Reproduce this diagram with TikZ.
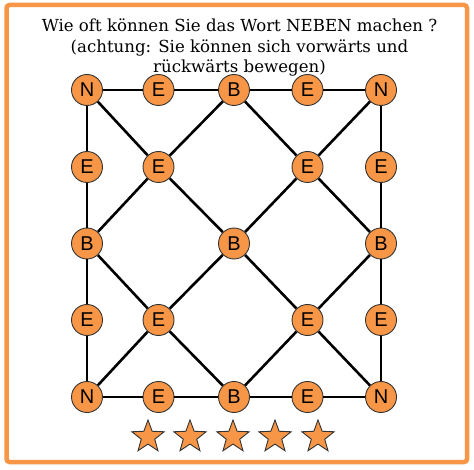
\documentclass[tikz,border=0pt]{standalone}
\usepackage{fontspec}
\setmainfont{DejaVu Serif}
\newfontfamily\letterfont{Liberation Sans}
\usepackage{tikz}
\usetikzlibrary{shapes.geometric}
\definecolor{nebenorange}{HTML}{F79646}
\tikzstyle{letter} = [
    circle,
    draw = black!80,
    line width = 0.9pt,
    fill = nebenorange,
    minimum size = 31pt,
    inner sep = 0pt,
    font = \letterfont\fontsize{20}{20}\selectfont
]
\tikzstyle{link} = [
    draw,
    line width = 2.6pt
]
\tikzstyle{prize} = [
    star,
    star points = 5,
    star point ratio = 2.4,
    draw = black!80,
    fill = nebenorange,
    line width = 0.9pt,
    minimum size = 34pt,
    inner sep = 0pt
]
\tikzstyle{title} = [
    anchor = base,
    inner sep = 0pt,
    font = \fontsize{16.6}{20}\selectfont
]
\begin{document}
\begin{tikzpicture}[x=1pt, y=-1pt]

                \useasboundingbox (0,0) rectangle (474,470);

                % frame
                \draw [nebenorange, line width = 4.5pt, rounded corners = 3pt] (6.5,5) rectangle (467,462);

                % question
                \node [title] (title1) at (239.5,32) {Wie oft können Sie das Wort NEBEN machen ?};
                \node [title] (title2) at (239.5,53) {(achtung: Sie können sich vorwärts und};
                \node [title] (title3) at (239.5,72.5) {rückwärts bewegen)};

                % top row
                \node [letter] (nTL) at (87,90) {N};
                \node [letter] (eT1) at (158.5,90) {E};
                \node [letter] (bT) at (234,90) {B};
                \node [letter] (eT2) at (307.5,90) {E};
                \node [letter] (nTR) at (381,90) {N};

                % left and right column
                \node [letter] (eL1) at (87,167) {E};
                \node [letter] (bL) at (87,243.5) {B};
                \node [letter] (eL2) at (87,320) {E};
                \node [letter] (eR1) at (381,167) {E};
                \node [letter] (bR) at (381,243.5) {B};
                \node [letter] (eR2) at (381,320) {E};

                % inside
                \node [letter] (eIn1) at (158.5,167) {E};
                \node [letter] (eIn2) at (307.5,167) {E};
                \node [letter] (bC) at (234,243.5) {B};
                \node [letter] (eIn3) at (158.5,320) {E};
                \node [letter] (eIn4) at (307.5,320) {E};

                % bottom row
                \node [letter] (nBL) at (87,397) {N};
                \node [letter] (eB1) at (158.5,397) {E};
                \node [letter] (bB) at (234,397) {B};
                \node [letter] (eB2) at (307.5,397) {E};
                \node [letter] (nBR) at (381,397) {N};

                % border lines
                \draw [link] (nTL) -- (eT1) -- (bT) -- (eT2) -- (nTR);
                \draw [link] (nBL) -- (eB1) -- (bB) -- (eB2) -- (nBR);
                \draw [link] (nTL) -- (eL1) -- (bL) -- (eL2) -- (nBL);
                \draw [link] (nTR) -- (eR1) -- (bR) -- (eR2) -- (nBR);

                % diagonals
                \draw [link] (nTL) -- (eIn1) -- (bC) -- (eIn4) -- (nBR);
                \draw [link] (nTR) -- (eIn2) -- (bC) -- (eIn3) -- (nBL);

                % diamond
                \draw [link] (bT) -- (eIn1) -- (bL) -- (eIn3) -- (bB);
                \draw [link] (bT) -- (eIn2) -- (bR) -- (eIn4) -- (bB);

                % stars
                \node [prize] (star1) at (148,437) {};
                \node [prize] (star2) at (190,437) {};
                \node [prize] (star3) at (233,437) {};
                \node [prize] (star4) at (275,437) {};
                \node [prize] (star5) at (318,437) {};

            \end{tikzpicture}
\end{document}
